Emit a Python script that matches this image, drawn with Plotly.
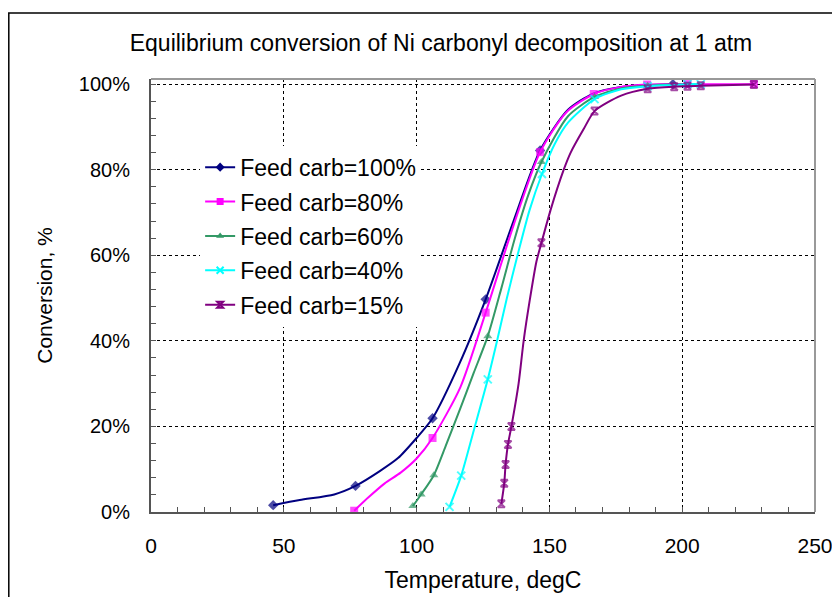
import plotly.graph_objects as go

# ---------------- data ----------------
series_names = ["Feed carb=100%", "Feed carb=80%", "Feed carb=60%", "Feed carb=40%", "Feed carb=15%"]

t100 = [46, 56, 69, 77, 86, 93, 100, 106, 116, 126, 136.5, 146.5, 157, 166.5, 176.5, 186.5, 196.5]
c100 = [1.6, 2.8, 4.1, 6.1, 9.5, 12.6, 17.3, 21.9, 34.5, 49.7, 68, 84.5, 94, 97.8, 99.3, 99.8, 100]
m100 = [1, 0, 0, 1, 0, 0, 0, 1, 0, 1, 0, 1, 0, 0, 0, 0, 1]

t80 = [76.5, 82, 88, 94, 100, 106, 116.5, 126, 136.5, 146.5, 156.5, 166.7, 176.5, 186.8, 196.5, 202, 227]
c80 = [0.3, 3.5, 6.7, 9.2, 12.5, 17.3, 29.2, 46.6, 67, 84.1, 93.5, 97.7, 99.3, 99.9, 100, 100, 100]
m80 = [1, 0, 0, 0, 0, 1, 0, 1, 0, 1, 0, 1, 0, 1, 0, 1, 1]

t60 = [98.6, 101.7, 106.5, 111, 116.5, 121.5, 126.8, 132, 137, 142, 147, 157, 167, 177, 187, 197, 207]
c60 = [1.4, 4.1, 8.6, 15.5, 24.3, 32.5, 41.1, 52.5, 64, 74, 81.8, 92.5, 97, 99, 99.6, 99.9, 100]
m60 = [1, 1, 1, 0, 0, 0, 1, 0, 0, 0, 1, 0, 1, 0, 1, 0, 0]

t40 = [112.4, 116.8, 121.5, 126.8, 130.3, 134, 138, 142.5, 147.2, 152, 157, 167, 177, 187, 197, 202, 207]
c40 = [1.2, 8.5, 19, 31, 40, 50, 60, 70.5, 79, 86, 91, 96.5, 98.8, 99.5, 99.8, 100, 100]
m40 = [1, 1, 0, 1, 0, 0, 0, 0, 1, 0, 0, 1, 0, 1, 0, 1, 1]

t15 = [131.9, 133, 133.5, 134.4, 135.7, 138.4, 140.3, 142.6, 145.1, 147, 150.4, 155.4, 158, 162.9, 167, 177, 187, 197, 202, 207, 227]
c15 = [1.9, 6.7, 11.1, 15.8, 20, 30, 40, 49.5, 58.5, 62.9, 70.5, 80, 84, 89.5, 93.7, 97.3, 98.9, 99.4, 99.5, 99.6, 99.9]
m15 = [1, 1, 1, 1, 1, 0, 0, 0, 0, 1, 0, 0, 0, 0, 1, 0, 1, 1, 1, 1, 1]

x_ticks = [0, 50, 100, 150, 200, 250]
y_ticks = [0, 20, 40, 60, 80, 100]
y_tick_text = ["0%", "20%", "40%", "60%", "80%", "100%"]

# ---------------- styles ----------------
colors = ["#000080", "#FF00FF", "#339966", "#00FFFF", "#800080"]
symbols = ["diamond", "square", "triangle-up", "x-thin-open", "hourglass-open"]
msizes = [8, 8, 8, 8, 7]

FONT = "Liberation Sans, Arial, sans-serif"

fig = go.Figure()
data = [(t100, c100, m100), (t80, c80, m80), (t60, c60, m60), (t40, c40, m40), (t15, c15, m15)]
for i, (t, c, m) in enumerate(data):
    mk_line = dict(color=colors[i], width=2 if i >= 3 else 0)
    fig.add_trace(go.Scatter(
        x=t, y=c, name=series_names[i], mode="lines+markers",
        showlegend=False, hoverinfo="x+y",
        line=dict(color=colors[i], width=2, shape="spline", smoothing=0.7),
        marker=dict(symbol=symbols[i], color=colors[i],
                    size=[msizes[i] if f else 0 for f in m], line=mk_line),
    ))
    # legend entry
    fig.add_trace(go.Scatter(
        x=[None], y=[None], name=series_names[i], mode="lines+markers",
        legendgroup=f"g{i}",
        line=dict(color=colors[i], width=2),
        marker=dict(symbol=symbols[i], color=colors[i], size=msizes[i] - 1, line=mk_line),
    ))

# the page body adds an 8px offset, so the figure is 8px smaller and shifted
W, H = 832, 589
L, R, T, B = 143, 25, 71, 85

fig.update_layout(
    width=W, height=H,
    margin=dict(l=L, r=R, t=T, b=B),
    paper_bgcolor="white", plot_bgcolor="white",
    font=dict(family=FONT, size=20, color="black"),
    title=dict(text="Equilibrium conversion of Ni carbonyl decomposition at 1 atm",
               x=433 / W, xanchor="center", y=1 - 35 / H, yanchor="middle",
               font=dict(size=23, family=FONT)),
    showlegend=True,
    legend=dict(x=0.074, y=0.846, xanchor="left", yanchor="top",
                bgcolor="white", borderwidth=0, tracegroupgap=1.5,
                font=dict(size=23, family=FONT), itemwidth=30),
    xaxis=dict(range=[0, 250], tickvals=x_ticks, ticks="inside", ticklen=5,
               tickcolor="#555", tickwidth=1, automargin=False,
               showline=True, linecolor="#555", linewidth=2,
               showgrid=True, gridcolor="black", gridwidth=1, griddash="3px,3px",
               zeroline=False, ticklabelstandoff=14, tickfont=dict(size=21),
               minor=dict(dtick=10, ticks="inside", ticklen=5, tickcolor="#555", showgrid=False),
               title=dict(text="Temperature, degC", standoff=16, font=dict(size=23))),
    yaxis=dict(range=[0, 101.2], tickvals=y_ticks, ticktext=y_tick_text,
               ticks="inside", ticklen=5, tickcolor="#555", tickwidth=1, automargin=False,
               showline=True, linecolor="#555", linewidth=2,
               showgrid=True, gridcolor="black", gridwidth=1, griddash="3px,3px",
               zeroline=False, ticklabelstandoff=15, tickfont=dict(size=20),
               minor=dict(dtick=4, ticks="inside", ticklen=5, tickcolor="#555", showgrid=False),
               title=dict(text="Conversion, %", standoff=20, font=dict(size=21))),
)

# plot-area border (top & right, grey) and outer chart border (black)
fig.add_shape(type="line", xref="paper", yref="paper", x0=0, x1=1, y0=1, y1=1,
              line=dict(color="#999999", width=2), layer="above")
fig.add_shape(type="line", xref="paper", yref="paper", x0=1, x1=1, y0=0, y1=1,
              line=dict(color="#999999", width=2), layer="above")
pw, ph = W - L - R, H - T - B
fig.add_shape(type="rect", xref="paper", yref="paper",
              x0=(0.8 - L) / pw, x1=(W + 20 - L) / pw,
              y0=-(H + 20 - (H - B)) / ph, y1=((H - B) - 5) / ph,
              line=dict(color="black", width=1.5), layer="above")

fig.write_html("out.html")
